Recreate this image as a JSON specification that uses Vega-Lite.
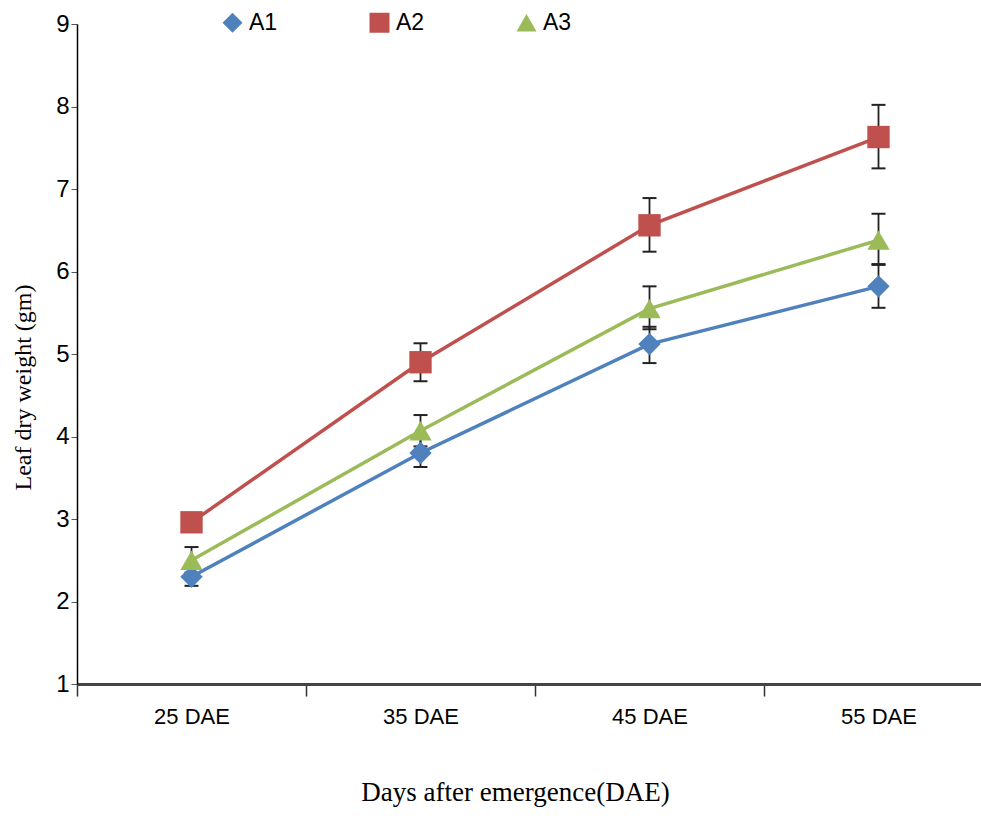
{
  "$schema": "https://vega.github.io/schema/vega-lite/v6.json",
  "width": 916,
  "height": 660,
  "autosize": {"type": "none"},
  "padding": {"left": 77, "top": 24, "right": 0, "bottom": 132},
  "background": "white",
  "config": {
    "view": {"stroke": null},
    "font": "Liberation Sans",
    "axisX": {
      "labelAngle": 0, "labelFontSize": 22, "labelColor": "black", "labelPadding": 10,
      "labelFont": "Liberation Sans",
      "tickSize": 12, "tickBand": "extent", "tickColor": "#333", "tickWidth": 1.5,
      "domainWidth": 3, "domainColor": "#444",
      "titleFont": "Liberation Serif", "titleFontSize": 27, "titleFontWeight": "normal",
      "titleColor": "black", "titlePadding": 52, "titleX": 438, "grid": false
    },
    "axisY": {
      "labelFontSize": 24, "labelColor": "black", "labelPadding": 2,
      "labelFont": "Liberation Sans",
      "tickSize": 6, "tickColor": "#555", "domainColor": "black", "domainWidth": 1.5,
      "titleFont": "Liberation Serif", "titleFontSize": 24, "titleFontWeight": "normal",
      "titleColor": "black", "titlePadding": 20, "titleY": 363, "grid": false
    },
    "legend": {
      "labelFontSize": 23, "labelColor": "black", "labelFont": "Liberation Sans",
      "symbolSize": 400, "columnPadding": 90, "labelOffset": 5, "symbolStrokeWidth": 0
    }
  },
  "data": {
    "values": [
      {"dae": "25 DAE", "series": "A1", "value": 2.3, "lo": 2.19, "hi": 2.41},
      {"dae": "25 DAE", "series": "A2", "value": 2.96, "lo": 2.86, "hi": 3.06},
      {"dae": "25 DAE", "series": "A3", "value": 2.5, "lo": 2.35, "hi": 2.66},
      {"dae": "35 DAE", "series": "A1", "value": 3.8, "lo": 3.63, "hi": 3.97},
      {"dae": "35 DAE", "series": "A2", "value": 4.9, "lo": 4.67, "hi": 5.13},
      {"dae": "35 DAE", "series": "A3", "value": 4.07, "lo": 3.88, "hi": 4.26},
      {"dae": "45 DAE", "series": "A1", "value": 5.12, "lo": 4.89, "hi": 5.33},
      {"dae": "45 DAE", "series": "A2", "value": 6.56, "lo": 6.24, "hi": 6.89},
      {"dae": "45 DAE", "series": "A3", "value": 5.55, "lo": 5.3, "hi": 5.82},
      {"dae": "55 DAE", "series": "A1", "value": 5.82, "lo": 5.56, "hi": 6.09},
      {"dae": "55 DAE", "series": "A2", "value": 7.63, "lo": 7.25, "hi": 8.02},
      {"dae": "55 DAE", "series": "A3", "value": 6.38, "lo": 6.08, "hi": 6.7}
    ]
  },
  "encoding": {
    "x": {
      "field": "dae", "type": "nominal",
      "sort": ["25 DAE", "35 DAE", "45 DAE", "55 DAE"],
      "scale": {"paddingInner": 0, "paddingOuter": 0},
      "title": "Days after emergence(DAE)"
    }
  },
  "layer": [
    {
      "mark": {"type": "rule", "color": "#222", "strokeWidth": 1.8},
      "encoding": {
        "y": {"field": "lo", "type": "quantitative", "scale": {"domain": [1, 9], "nice": false, "zero": false}, "axis": {"values": [1,2,3,4,5,6,7,8,9], "format": "d"}, "title": "Leaf dry weight (gm)"},
        "y2": {"field": "hi"}
      }
    },
    {
      "mark": {"type": "tick", "color": "#222", "size": 14, "thickness": 2, "opacity": 1},
      "encoding": {
        "y": {"field": "lo", "type": "quantitative", "title": "Leaf dry weight (gm)"}
      }
    },
    {
      "mark": {"type": "tick", "color": "#222", "size": 14, "thickness": 2, "opacity": 1},
      "encoding": {
        "y": {"field": "hi", "type": "quantitative", "title": "Leaf dry weight (gm)"}
      }
    },
    {
      "mark": {"type": "line", "strokeWidth": 3.5},
      "encoding": {
        "y": {"field": "value", "type": "quantitative", "title": "Leaf dry weight (gm)"},
        "color": {"field": "series", "type": "nominal", "scale": {"domain": ["A1", "A2", "A3"], "range": ["#4F81BD", "#C0504D", "#9BBB59"]},
          "legend": {"orient": "none", "legendX": 144, "legendY": -13, "direction": "horizontal", "title": null}}
      }
    },
    {
      "mark": {"type": "point", "filled": true, "opacity": 1, "size": 500},
      "encoding": {
        "y": {"field": "value", "type": "quantitative", "title": "Leaf dry weight (gm)"},
        "color": {"field": "series", "type": "nominal", "scale": {"domain": ["A1", "A2", "A3"], "range": ["#4F81BD", "#C0504D", "#9BBB59"]},
          "legend": {"orient": "none", "legendX": 144, "legendY": -13, "direction": "horizontal", "title": null}},
        "shape": {"field": "series", "type": "nominal", "scale": {"domain": ["A1", "A2", "A3"], "range": ["diamond", "square", "triangle-up"]},
          "legend": {"orient": "none", "legendX": 144, "legendY": -13, "direction": "horizontal", "title": null}}
      }
    }
  ]
}
